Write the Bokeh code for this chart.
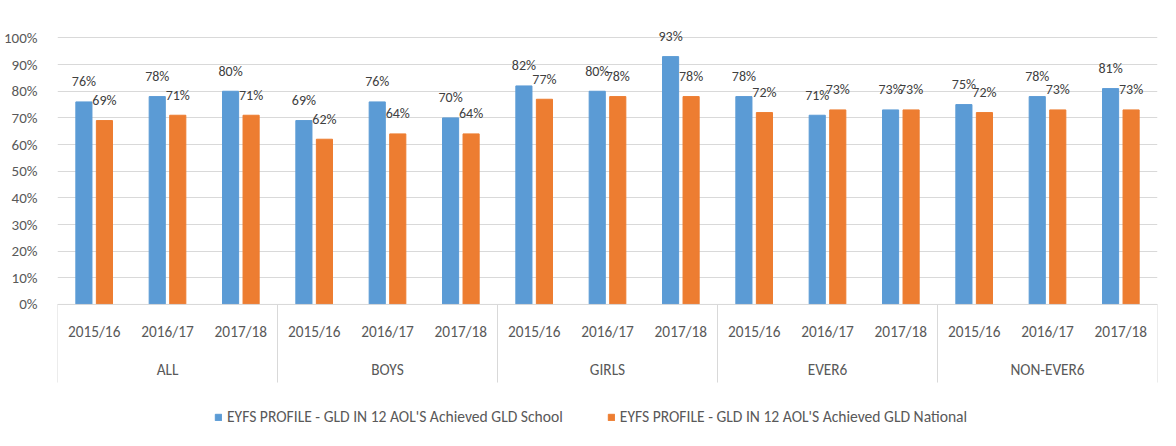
from bokeh.plotting import figure
from bokeh.models import (FactorRange, Range1d, ColumnDataSource, FixedTicker,
                          PrintfTickFormatter, Legend, LegendItem)
from bokeh.transform import dodge
from bokeh.core.properties import value
from bokeh.embed import file_html
from bokeh.resources import INLINE

# ---- data ----
groups = ["ALL", "BOYS", "GIRLS", "EVER6", "NON-EVER6"]
years = ["2015/16", "2016/17", "2017/18"]
school = [76, 78, 80, 69, 76, 70, 82, 80, 93, 78, 71, 73, 75, 78, 81]
national = [69, 71, 71, 62, 64, 64, 77, 78, 78, 72, 73, 73, 72, 73, 73]
series_names = ["EYFS PROFILE - GLD IN 12 AOL'S Achieved GLD School",
                "EYFS PROFILE - GLD IN 12 AOL'S Achieved GLD National"]
y_ticks = [0, 10, 20, 30, 40, 50, 60, 70, 80, 90, 100]

FONT = "Carlito"
TXT = "#595959"
BLUE = "#5B9BD5"
ORANGE = "#ED7D31"
GRID = "#D9D9D9"

factors = [(g, y) for g in groups for y in years]
src = ColumnDataSource(dict(
    x=factors,
    year=[y for g in groups for y in years],
    school=school,
    national=national,
    school_lbl=[f"{v}%" for v in school],
    national_lbl=[f"{v}%" for v in national],
))
grp_src = ColumnDataSource(dict(x=[(g, years[1]) for g in groups], name=groups))

x_range = FactorRange(*factors, group_padding=0, factor_padding=0, range_padding=0)
y_range = Range1d(-45.8, 104.3)

p = figure(x_range=x_range, y_range=y_range, width=1160, height=430,
           output_backend="svg", toolbar_location=None,
           min_border_left=52, min_border_right=3, min_border_top=26,
           min_border_bottom=4)
p.outline_line_color = None

# bars
r_school = p.vbar(x=dodge("x", -0.14, range=x_range), top="school", width=0.22,
                  source=src, fill_color=BLUE, line_color=BLUE, line_width=1)
r_nat = p.vbar(x=dodge("x", 0.14, range=x_range), top="national", width=0.22,
               source=src, fill_color=ORANGE, line_color=ORANGE, line_width=1)

# data labels
lbl_kw = dict(source=src, text_font=value(FONT), text_font_size="14px",
              text_color="#404040", text_align="center", text_baseline="middle",
              y_offset=-20)
p.text(x=dodge("x", -0.14, range=x_range), y="school", text="school_lbl", **lbl_kw)
p.text(x=dodge("x", 0.14, range=x_range), y="national", text="national_lbl", **lbl_kw)

# baseline (category axis line)
p.segment(x0=dodge("x", -0.5, range=x_range), x1=dodge("x", 0.5, range=x_range),
          y0=0, y1=0, source=src, line_color=GRID, line_width=1)

# category labels below the baseline
p.text(x="x", y=0, text="year", source=src, text_font=value(FONT),
       text_font_size="15.3px", text_color=TXT, text_align="center",
       text_baseline="middle", y_offset=27)
p.text(x="x", y=0, text="name", source=grp_src, text_font=value(FONT),
       text_font_size="15.3px", text_color=TXT, text_align="center",
       text_baseline="middle", y_offset=65)

# group separators below the axis (down to the bottom of the category box)
sep_src = ColumnDataSource(dict(x=[(g, years[0]) for g in groups]))
seg_kw = dict(y0=0, y1=-29.3, line_color=GRID, line_width=1)
p.segment(x0=dodge("x", -0.5, range=x_range), x1=dodge("x", -0.5, range=x_range),
          source=sep_src, **seg_kw)
end_src = ColumnDataSource(dict(x=[(groups[-1], years[-1])]))
p.segment(x0=dodge("x", 0.5, range=x_range), x1=dodge("x", 0.5, range=x_range),
          source=end_src, **seg_kw)

# grid
p.xgrid.grid_line_color = None
p.ygrid.ticker = FixedTicker(ticks=y_ticks)
p.ygrid.grid_line_color = GRID
p.ygrid.grid_line_width = 1

p.xaxis.visible = False

# y axis
p.yaxis.ticker = FixedTicker(ticks=y_ticks)
p.yaxis.formatter = PrintfTickFormatter(format="%d%%")
p.yaxis.axis_line_color = None
p.yaxis.major_tick_line_color = None
p.yaxis.minor_tick_line_color = None
p.yaxis.major_label_standoff = 14
p.yaxis.major_label_text_font = FONT
p.yaxis.major_label_text_font_size = "15px"
p.yaxis.major_label_text_color = TXT

# legend (inside the frame, under the category box)
legend = Legend(items=[LegendItem(label=series_names[0], renderers=[r_school]),
                       LegendItem(label=series_names[1], renderers=[r_nat])],
                orientation="horizontal", location=(157, 0),
                border_line_color=None, background_fill_alpha=0,
                glyph_width=8, glyph_height=8, label_standoff=5, spacing=44,
                margin=0, padding=3,
                label_text_font=FONT, label_text_font_size="15.6px",
                label_text_color=TXT)
p.add_layout(legend, "center")

open("out.html", "w").write(file_html(p, INLINE))
